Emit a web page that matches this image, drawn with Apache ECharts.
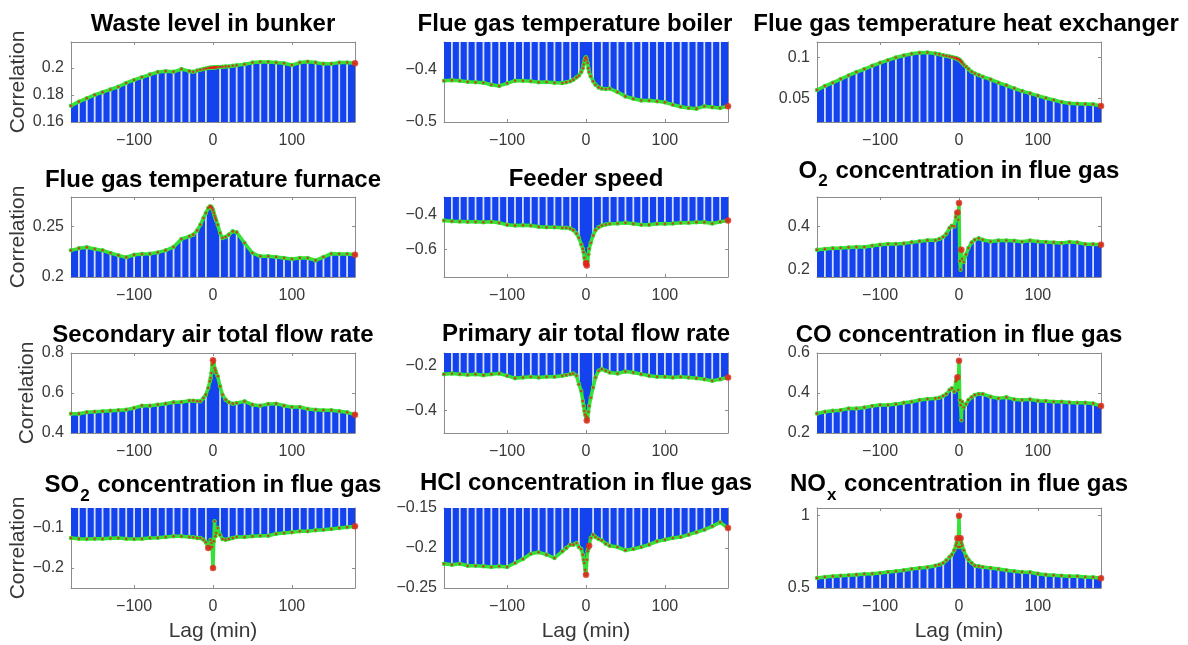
<!DOCTYPE html>
<html>
<head>
<meta charset="utf-8">
<script src="https://cdn.jsdelivr.net/npm/echarts@6/dist/echarts.min.js"></script>
<style>
  html, body { margin: 0; padding: 0; background: #fff; }
  #chart { width: 1188px; height: 645px; }
</style>
</head>
<body>
<div id="chart"></div>
<script>
// Lag axis (minutes), denser around zero where the correlations change quickly
const lags = [-180,-170,-160,-150,-140,-130,-120,-110,-100,-90,-80,-70,-60,-50,-40,-30,
  -25,-20,-16,-12,-9,-6,-4,-3,-2,-1,0,1,2,3,4,6,9,12,16,20,25,
  30,40,50,60,70,80,90,100,110,120,130,140,150,160,170,180];

const xTicks = [-100, 0, 100];

// Cross-correlation of each process variable with the target, per lag
const wasteLevel = [0.172,0.175,0.1775,0.180,0.182,0.184,0.186,0.1888,0.191,0.193,0.195,0.1968,0.1975,0.197,0.199,0.1975,
  0.197,0.198,0.1985,0.199,0.1995,0.1998,0.2,0.2,0.2,0.2,0.2,0.2002,0.2003,0.2003,0.2004,0.2005,0.2006,0.2008,0.201,0.201,0.2015,
  0.2018,0.2025,0.2038,0.2043,0.2043,0.2038,0.2033,0.202,0.2038,0.2045,0.2038,0.203,0.203,0.2038,0.2038,0.2033];

const boilerTemp = [-0.421,-0.420,-0.421,-0.423,-0.424,-0.425,-0.4287,-0.431,-0.426,-0.421,-0.421,-0.422,-0.424,-0.4236,-0.425,-0.4255,
  -0.424,-0.422,-0.419,-0.4146,-0.411,-0.4045,-0.397,-0.390,-0.383,-0.378,-0.3764,-0.381,-0.387,-0.397,-0.4045,-0.4127,-0.422,-0.4287,-0.4338,-0.436,-0.437,
  -0.436,-0.4427,-0.451,-0.4554,-0.459,-0.459,-0.4605,-0.4624,-0.4669,-0.4707,-0.4732,-0.4745,-0.470,-0.472,-0.4732,-0.470];

const heatExchTemp = [0.0602,0.065,0.0691,0.0736,0.078,0.0821,0.0858,0.0898,0.0935,0.0967,0.100,0.1024,0.1045,0.1057,0.1061,0.1049,
  0.104,0.1028,0.102,0.1013,0.1006,0.0998,0.0992,0.0988,0.0984,0.098,0.0976,0.0968,0.0958,0.0947,0.0935,0.0912,0.0886,0.0858,0.0825,0.0805,0.0785,
  0.0764,0.0732,0.0691,0.0659,0.0622,0.0589,0.0561,0.0533,0.0504,0.048,0.0455,0.0439,0.0435,0.0431,0.0427,0.0407];

const furnaceTemp = [0.2263,0.2283,0.2293,0.2276,0.2263,0.2237,0.2214,0.2194,0.222,0.2227,0.223,0.2243,0.2263,0.2296,0.2375,0.2401,
  0.2418,0.246,0.2516,0.2582,0.2632,0.2681,0.2697,0.2697,0.269,0.2678,0.2658,0.2632,0.2605,0.2582,0.2559,0.2516,0.2434,0.2385,0.2395,0.2418,0.2451,
  0.2441,0.2336,0.2237,0.2204,0.2204,0.2197,0.2188,0.2178,0.2188,0.2188,0.2164,0.2197,0.223,0.2227,0.2227,0.222];

const feederSpeed = [-0.4343,-0.438,-0.44,-0.442,-0.442,-0.4438,-0.442,-0.4476,-0.459,-0.4629,-0.461,-0.4629,-0.4705,-0.4724,-0.4724,-0.4762,
  -0.476,-0.48,-0.4895,-0.5086,-0.5333,-0.5714,-0.596,-0.615,-0.6476,-0.6667,-0.68,-0.6914,-0.6667,-0.6286,-0.596,-0.5619,-0.52,-0.4895,-0.4724,-0.4629,-0.457,
  -0.4533,-0.4514,-0.4476,-0.4533,-0.459,-0.459,-0.4533,-0.4533,-0.4514,-0.4476,-0.4476,-0.4438,-0.4438,-0.4514,-0.442,-0.4343];

const o2Conc = [0.2923,0.2954,0.2985,0.300,0.303,0.3046,0.3046,0.3108,0.3154,0.3185,0.3185,0.3215,0.3262,0.3308,0.3354,0.3354,
  0.3415,0.3508,0.3662,0.3923,0.4031,0.400,0.4431,0.4615,0.4646,0.430,0.5077,0.240,0.200,0.2923,0.250,0.235,0.270,0.300,0.325,0.338,0.345,
  0.338,0.330,0.335,0.335,0.334,0.329,0.335,0.330,0.328,0.326,0.323,0.328,0.326,0.318,0.318,0.315];

const secondaryAir = [0.4967,0.4967,0.5033,0.5067,0.5083,0.5117,0.5133,0.5167,0.525,0.5367,0.5367,0.5417,0.5467,0.5533,0.555,0.5617,
  0.5617,0.5583,0.5583,0.575,0.5917,0.625,0.6583,0.675,0.700,0.7417,0.7633,0.750,0.725,0.7133,0.700,0.6833,0.6333,0.5917,0.5667,0.5533,0.5467,
  0.550,0.5583,0.5417,0.5367,0.545,0.5467,0.5367,0.530,0.530,0.520,0.5167,0.5133,0.5133,0.5083,0.5033,0.4917];

const primaryAir = [-0.2376,-0.2346,-0.2376,-0.2406,-0.2376,-0.2421,-0.2376,-0.2346,-0.2451,-0.2556,-0.2526,-0.2496,-0.2526,-0.2496,-0.2496,-0.2451,
  -0.242,-0.2376,-0.2346,-0.2451,-0.2827,-0.3128,-0.3579,-0.3805,-0.403,-0.418,-0.4256,-0.445,-0.433,-0.406,-0.3805,-0.343,-0.2977,-0.2526,-0.2226,-0.215,-0.2226,
  -0.230,-0.2346,-0.2256,-0.230,-0.2376,-0.2451,-0.2496,-0.2496,-0.2526,-0.2496,-0.2526,-0.2556,-0.2602,-0.2677,-0.2602,-0.2526];

const coConc = [0.2975,0.3059,0.3109,0.3143,0.3227,0.3227,0.3277,0.3345,0.3395,0.3395,0.3445,0.3513,0.3563,0.3647,0.3697,0.3731,
  0.3765,0.3849,0.395,0.4151,0.4235,0.4067,0.4571,0.4655,0.479,0.415,0.5613,0.3647,0.3395,0.2639,0.3563,0.3277,0.3445,0.3647,0.3782,0.3899,0.395,
  0.395,0.3815,0.3731,0.3782,0.3681,0.3647,0.3681,0.3613,0.3597,0.3563,0.3563,0.3529,0.3513,0.3513,0.3479,0.3345];

const so2Conc = [-0.125,-0.1267,-0.1275,-0.1267,-0.1267,-0.1258,-0.125,-0.1267,-0.1275,-0.1267,-0.125,-0.1242,-0.1225,-0.1208,-0.1208,-0.1225,
  -0.1233,-0.125,-0.125,-0.1292,-0.1358,-0.150,-0.150,-0.1292,-0.1375,-0.1475,-0.200,-0.1333,-0.0833,-0.1208,-0.1125,-0.100,-0.1167,-0.1275,-0.1292,-0.1275,-0.125,
  -0.1225,-0.1225,-0.1208,-0.1192,-0.1192,-0.1142,-0.1125,-0.1108,-0.1083,-0.1083,-0.1058,-0.1042,-0.1025,-0.100,-0.0983,-0.0958];

const hclConc = [-0.2196,-0.2208,-0.2196,-0.2221,-0.2221,-0.2229,-0.2238,-0.2229,-0.2238,-0.2188,-0.2138,-0.2071,-0.2054,-0.2083,-0.2125,-0.2042,
  -0.200,-0.1958,-0.1958,-0.1938,-0.1988,-0.2013,-0.2083,-0.2146,-0.2188,-0.2271,-0.2333,-0.2146,-0.2042,-0.2013,-0.1971,-0.1875,-0.1833,-0.1863,-0.1888,-0.1904,-0.1946,
  -0.1971,-0.1988,-0.2029,-0.2013,-0.1988,-0.1958,-0.1917,-0.1896,-0.1875,-0.1863,-0.1833,-0.1804,-0.1771,-0.1729,-0.1679,-0.175];

const noxConc = [0.5691,0.576,0.5806,0.5853,0.5876,0.5922,0.5968,0.5991,0.6037,0.6106,0.6152,0.6221,0.6313,0.6382,0.6429,0.6544,
  0.6613,0.6728,0.6912,0.7143,0.7304,0.7604,0.7926,0.8111,0.8433,0.7834,1.0,0.7834,0.8433,0.8111,0.7926,0.7604,0.7189,0.6958,0.6728,0.6544,0.6498,
  0.6452,0.6382,0.6313,0.6221,0.6152,0.6106,0.6083,0.5991,0.5922,0.5876,0.5853,0.5806,0.5806,0.576,0.5737,0.5668];

// Lags whose points are drawn with the larger red marker
const wasteMarks = [180], boilerMarks = [180], heatMarks = [180], furnaceMarks = [180];
const feederMarks = [0, 1, 180], o2Marks = [-2, 0, 3, 180], secondaryMarks = [0, 180], primaryMarks = [1, 180];
const coMarks = [-2, 0, 180], so2Marks = [-6, 0, 180], hclMarks = [0, 4, 180], noxMarks = [-2, 0, 2, 180];

// Panel titles ({s|..} is a subscript) and value-axis settings, row by row
const panels = [
  { title: '{t|Waste level in bunker}', values: wasteLevel, marks: wasteMarks, yMin: 0.16, yMax: 0.219, yTicks: [0.16, 0.18, 0.2] },
  { title: '{t|Flue gas temperature boiler}', values: boilerTemp, marks: boilerMarks, yMin: -0.5, yMax: -0.347, yTicks: [-0.5, -0.4] },
  { title: '{t|Flue gas temperature heat exchanger}', values: heatExchTemp, marks: heatMarks, yMin: 0.021, yMax: 0.119, yTicks: [0.05, 0.1] },
  { title: '{t|Flue gas temperature furnace}', values: furnaceTemp, marks: furnaceMarks, yMin: 0.2, yMax: 0.279, yTicks: [0.2, 0.25] },
  { title: '{t|Feeder speed}', values: feederSpeed, marks: feederMarks, yMin: -0.757, yMax: -0.3, yTicks: [-0.6, -0.4] },
  { title: '{t|O}{s|2}{t| concentration in flue gas}', values: o2Conc, marks: o2Marks, yMin: 0.166, yMax: 0.536, yTicks: [0.2, 0.4] },
  { title: '{t|Secondary air total flow rate}', values: secondaryAir, marks: secondaryMarks, yMin: 0.4, yMax: 0.8, yTicks: [0.4, 0.6, 0.8] },
  { title: '{t|Primary air total flow rate}', values: primaryAir, marks: primaryMarks, yMin: -0.501, yMax: -0.143, yTicks: [-0.4, -0.2] },
  { title: '{t|CO concentration in flue gas}', values: coConc, marks: coMarks, yMin: 0.2, yMax: 0.6, yTicks: [0.2, 0.4, 0.6] },
  { title: '{t|SO}{s|2}{t| concentration in flue gas}', values: so2Conc, marks: so2Marks, yMin: -0.25, yMax: -0.05, yTicks: [-0.2, -0.1] },
  { title: '{t|HCl concentration in flue gas}', values: hclConc, marks: hclMarks, yMin: -0.25, yMax: -0.15, yTicks: [-0.25, -0.2, -0.15] },
  { title: '{t|NO}{s|x}{t| concentration in flue gas}', values: noxConc, marks: noxMarks, yMin: 0.5, yMax: 1.053, yTicks: [0.5, 1] }
];

const FONT = '"Liberation Sans", Arial, Helvetica, sans-serif';
const colLeft = [71, 444, 817];
const rowTop = [42, 197, 353, 508];
const plotW = 284, plotH = 80;
// title anchor per panel: horizontal nudge from the box centre, and vertical middle of the main text
const titleShift = [0, -11, 7, 0, 0, 0, 0, 0, 0, 0, 0, 0];
const titleMid = [23, 23, 23, 179.5, 178, 170, 334, 333, 334, 484.5, 482.5, 483.5];

const BAR_BLUE = '#1443ee';
const GREEN = '#35e235';
const RED = '#e3201c';
const AXIS_GREY = '#8c8c8c';
const TEXT_GREY = '#383838';

function tickText(v) {
  const s = String(Math.round(v * 1000) / 1000);
  return s.replace('-', '\u2212');
}

// lags at which a light gap separates neighbouring stems
function isGapLag(l) {
  return (l % 10 === 0 && Math.abs(l) >= 20 && Math.abs(l) < 180) || Math.abs(l) === 9;
}

const grid = [], xAxis = [], yAxis = [], series = [], graphic = [];

panels.forEach((p, i) => {
  const row = Math.floor(i / 3), col = i % 3;
  const left = colLeft[col], top = rowTop[row];
  grid.push({ left: left, top: top, width: plotW, height: plotH, containLabel: false });

  const pts = lags.map((l, k) => [l, p.values[k]]);
  const tickLine = { color: AXIS_GREY, width: 1 };
  const axisLine = { show: true, onZero: false, lineStyle: { color: AXIS_GREY, width: 1 } };

  // bottom and top x axes (box with inward ticks on both sides)
  xAxis.push({
    type: 'value', gridIndex: i, position: 'bottom', min: -180, max: 180,
    axisLine: axisLine,
    axisTick: { show: true, inside: true, length: 3, customValues: xTicks, lineStyle: tickLine },
    axisLabel: { show: true, customValues: xTicks, formatter: tickText, fontSize: 16, fontFamily: FONT, color: TEXT_GREY, margin: 11 },
    splitLine: { show: false },
    name: row === 3 ? 'Lag (min)' : '', nameLocation: 'middle', nameGap: 33,
    nameTextStyle: { fontSize: 21, fontFamily: FONT, color: TEXT_GREY }
  });
  xAxis.push({
    type: 'value', gridIndex: i, position: 'top', min: -180, max: 180,
    axisLine: axisLine,
    axisTick: { show: true, inside: true, length: 3, customValues: xTicks, lineStyle: tickLine },
    axisLabel: { show: false }, splitLine: { show: false }
  });
  // left and right y axes
  yAxis.push({
    type: 'value', gridIndex: i, position: 'left', min: p.yMin, max: p.yMax,
    axisLine: axisLine,
    axisTick: { show: true, inside: true, length: 3, customValues: p.yTicks, lineStyle: tickLine },
    axisLabel: { show: true, customValues: p.yTicks, formatter: tickText, fontSize: 16, fontFamily: FONT, color: TEXT_GREY, margin: 7 },
    splitLine: { show: false },
    name: col === 0 ? 'Correlation' : '', nameLocation: 'middle', nameGap: 13, nameRotate: 90,
    nameTextStyle: { fontSize: 21, fontFamily: FONT, color: TEXT_GREY }
  });
  yAxis.push({
    type: 'value', gridIndex: i, position: 'right', min: p.yMin, max: p.yMax,
    axisLine: axisLine,
    axisTick: { show: true, inside: true, length: 3, customValues: p.yTicks, lineStyle: tickLine },
    axisLabel: { show: false }, splitLine: { show: false }
  });

  const xi = 2 * i, yi = 2 * i;
  // filled stems: area from the zero line (clipped to the box) to each value
  series.push({
    type: 'line', xAxisIndex: xi, yAxisIndex: yi, data: pts, showSymbol: false, symbol: 'none',
    lineStyle: { width: 0 }, areaStyle: { color: BAR_BLUE, opacity: 1, origin: 'auto' },
    z: 1, silent: true, clip: true
  });
  // light gaps between the stems
  series.push({
    type: 'bar', xAxisIndex: xi, yAxisIndex: yi,
    data: pts.filter(d => isGapLag(d[0])),
    barWidth: 1.8, itemStyle: { color: 'rgba(238,242,255,0.88)' }, z: 2, silent: true, clip: true
  });
  // green correlation trace
  series.push({
    type: 'line', xAxisIndex: xi, yAxisIndex: yi, data: pts, symbol: 'circle', symbolSize: 4.5,
    showSymbol: true, lineStyle: { color: GREEN, width: 3.5 }, itemStyle: { color: GREEN },
    z: 3, silent: true, clip: true
  });
  // red sample points
  series.push({
    type: 'scatter', xAxisIndex: xi, yAxisIndex: yi, data: pts, symbolSize: 2.6,
    itemStyle: { color: RED }, z: 4, silent: true, clip: true
  });
  series.push({
    type: 'scatter', xAxisIndex: xi, yAxisIndex: yi, data: pts.filter(d => p.marks.indexOf(d[0]) >= 0),
    symbolSize: 6.5, itemStyle: { color: RED }, z: 5, silent: true, clip: false
  });

  // panel title above its box
  graphic.push({
    type: 'text', x: left + plotW / 2 + titleShift[i], y: titleMid[i] - 11, silent: true,
    style: {
      text: p.title, align: 'center', verticalAlign: 'top', fill: '#000',
      rich: {
        t: { fontSize: 24, fontWeight: 'bold', fontFamily: FONT, fill: '#000', verticalAlign: 'top', lineHeight: 28 },
        s: { fontSize: 17, fontWeight: 'bold', fontFamily: FONT, fill: '#000', verticalAlign: 'top', lineHeight: 17, padding: [14, 1, 0, 1] }
      }
    }
  });
});

const chart = echarts.init(document.getElementById('chart'), null, { renderer: 'canvas' });
chart.setOption({
  animation: false,
  backgroundColor: '#ffffff',
  grid: grid, xAxis: xAxis, yAxis: yAxis, series: series, graphic: graphic
});
</script>
</body>
</html>
